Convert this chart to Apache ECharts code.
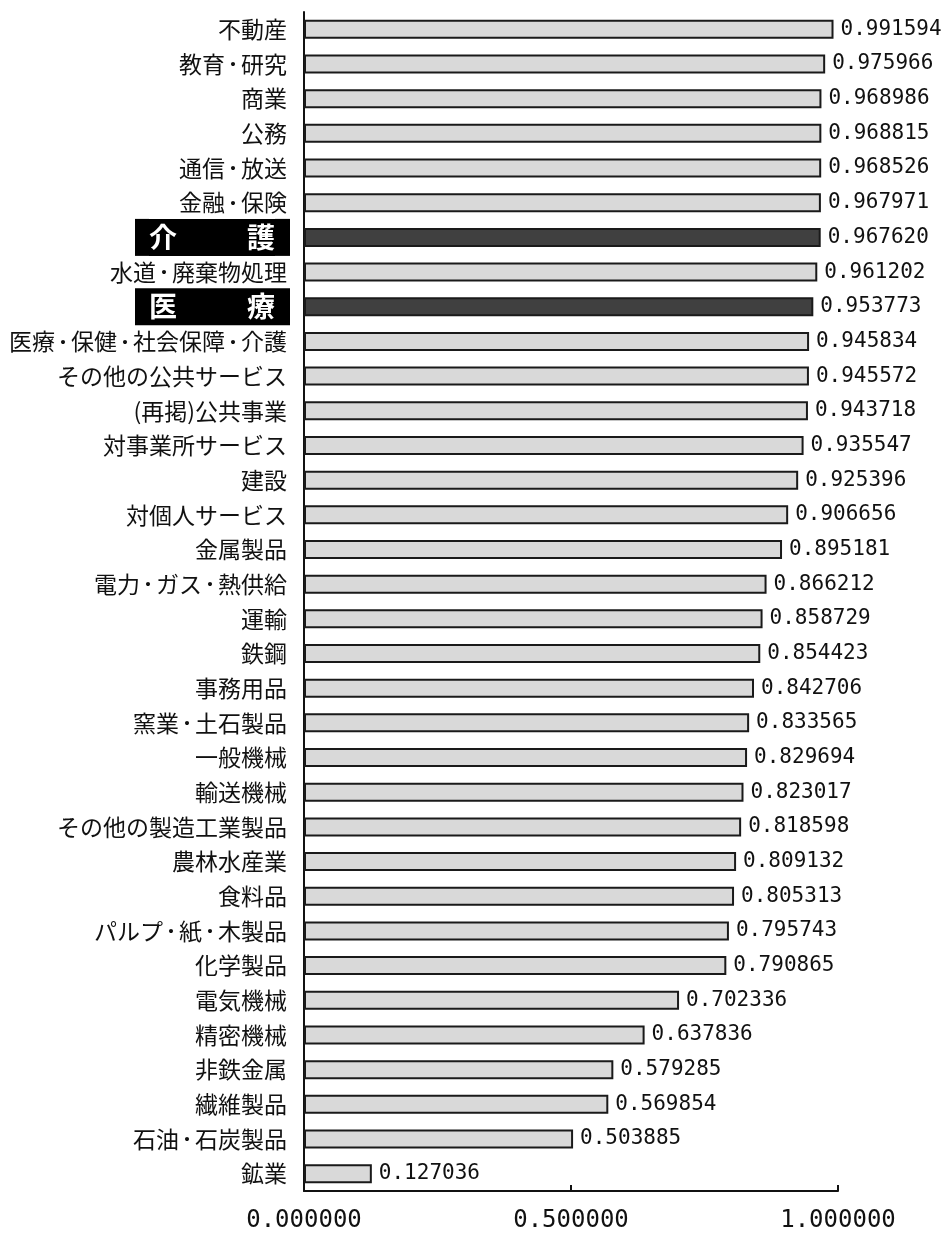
<!DOCTYPE html>
<html>
<head>
<meta charset="utf-8">
<script src="https://cdn.jsdelivr.net/npm/echarts@6/dist/echarts.min.js"></script>
<style>
  html, body { margin: 0; padding: 0; background: #fff; }
  #chart { width: 949px; height: 1233px; }
</style>
</head>
<body>
<div id="chart"></div>
<script>
// Industry names, top to bottom
const categories = [
  '不動産', '教育・研究', '商業', '公務', '通信・放送', '金融・保険', '介護',
  '水道・廃棄物処理', '医療', '医療・保健・社会保障・介護', 'その他の公共サービス',
  '(再掲)公共事業', '対事業所サービス', '建設', '対個人サービス', '金属製品',
  '電力・ガス・熱供給', '運輸', '鉄鋼', '事務用品', '窯業・土石製品', '一般機械',
  '輸送機械', 'その他の製造工業製品', '農林水産業', '食料品', 'パルプ・紙・木製品',
  '化学製品', '電気機械', '精密機械', '非鉄金属', '繊維製品', '石油・石炭製品', '鉱業'
];

const values = [
  0.991594, 0.975966, 0.968986, 0.968815, 0.968526, 0.967971, 0.967620,
  0.961202, 0.953773, 0.945834, 0.945572, 0.943718, 0.935547, 0.925396,
  0.906656, 0.895181, 0.866212, 0.858729, 0.854423, 0.842706, 0.833565,
  0.829694, 0.823017, 0.818598, 0.809132, 0.805313, 0.795743, 0.790865,
  0.702336, 0.637836, 0.579285, 0.569854, 0.503885, 0.127036
];

// Categories drawn with dark bars and boxed labels
const highlighted = ['介護', '医療'];

const xTicks = [0, 0.5, 1];

const JP_FONT = '"Noto Sans CJK JP", "Noto Sans", sans-serif';
const MONO_FONT = '"DejaVu Sans Mono", "Liberation Mono", monospace';

const boxToken = {
  backgroundColor: '#000', color: '#fff', height: 37,
  fontSize: 28, fontFamily: JP_FONT, fontWeight: 'bold'
};

// Category label: boxed white-on-black for highlighted rows,
// otherwise plain text with a narrower middle dot between words.
function categoryLabel(name) {
  if (highlighted.includes(name)) {
    const chars = Array.from(name);
    return '{s1| }{c|' + chars[0] + '}{s2| }{c|' + chars[1] + '}{s3| }';
  }
  const parts = name.split('・').map(s => '{n|' + s + '}');
  return parts.join('{d|・}') + '{p| }';
}

const chart = echarts.init(document.getElementById('chart'), null, { renderer: 'canvas' });

chart.setOption({
  backgroundColor: '#fff',
  animation: false,
  grid: { left: 304, right: 111, top: 12, bottom: 42, containLabel: false },
  xAxis: {
    type: 'value',
    min: xTicks[0],
    max: xTicks[xTicks.length - 1],
    interval: xTicks[1] - xTicks[0],
    axisLine: { show: true, lineStyle: { color: '#111', width: 2 } },
    axisTick: { show: true, inside: true, length: 6, lineStyle: { color: '#111', width: 2 } },
    splitLine: { show: false },
    axisLabel: {
      margin: 18,
      fontFamily: MONO_FONT,
      fontSize: 24,
      color: '#111',
      formatter: v => v.toFixed(6)
    }
  },
  yAxis: {
    type: 'category',
    data: categories,
    inverse: true,
    axisLine: { show: true, lineStyle: { color: '#111', width: 2 } },
    axisTick: { show: false },
    axisLabel: {
      margin: 14,
      interval: 0,
      formatter: categoryLabel,
      rich: {
        n: { fontSize: 23, fontFamily: JP_FONT, color: '#111' },
        d: { fontSize: 16, fontFamily: JP_FONT, fontWeight: 'bold', color: '#111' },
        p: { width: 3 },
        s1: Object.assign({}, boxToken, { width: 14 }),
        c: Object.assign({}, boxToken, { width: 28 }),
        s2: Object.assign({}, boxToken, { width: 70 }),
        s3: Object.assign({}, boxToken, { width: 15 })
      }
    }
  },
  series: [{
    type: 'bar',
    barWidth: 19,
    data: values.map((v, i) => ({
      value: v,
      itemStyle: {
        color: highlighted.includes(categories[i]) ? '#404040' : '#d9d9d9',
        borderColor: '#1a1a1a',
        borderWidth: 2
      }
    })),
    label: {
      show: true,
      position: 'right',
      distance: 7,
      fontFamily: MONO_FONT,
      fontSize: 21,
      color: '#111',
      formatter: p => p.value.toFixed(6)
    }
  }]
});
</script>
</body>
</html>
